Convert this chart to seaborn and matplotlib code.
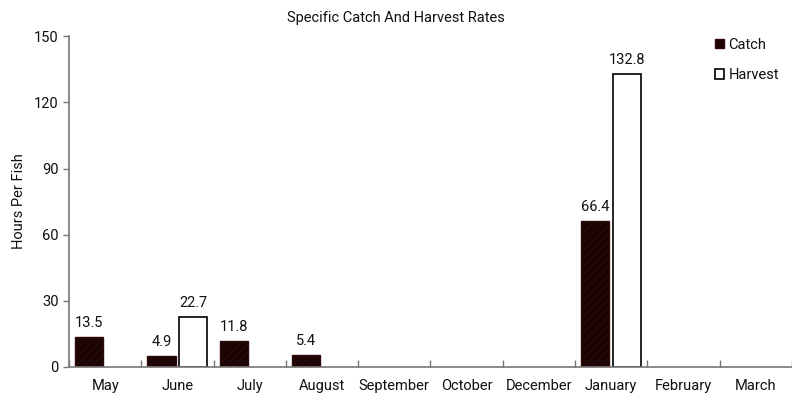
import matplotlib
matplotlib.use("Agg")
import matplotlib.pyplot as plt
import seaborn as sns
import pandas as pd
import numpy as np
from matplotlib.patches import Patch

months = ["May", "June", "July", "August", "September", "October", "December", "January", "February", "March"]
catch = [13.5, 4.9, 11.8, 5.4, np.nan, np.nan, np.nan, 66.4, np.nan, np.nan]
harvest = [np.nan, 22.7, np.nan, np.nan, np.nan, np.nan, np.nan, 132.8, np.nan, np.nan]
yticks = [0, 30, 60, 90, 120, 150]

sns.set_theme(style="white")
plt.rcParams['font.family'] = ['Roboto', 'DejaVu Sans']
plt.rcParams['hatch.linewidth'] = 0.8

df = pd.DataFrame({
    "Month": months * 2,
    "Value": catch + harvest,
    "Series": ["Catch"] * len(months) + ["Harvest"] * len(months),
})

fig = plt.figure(figsize=(7.92, 4.01), dpi=100)
ax = fig.add_axes([0.0871, 0.0848, 0.9129, 0.825])

sns.barplot(data=df, x="Month", y="Value", hue="Series", order=months,
            hue_order=["Catch", "Harvest"], palette=["#1a0404", "white"],
            width=0.88, gap=0.11, ax=ax, legend=False, saturation=1)

n = len(months)
for p in ax.containers[0]:
    p.set_facecolor("#1a0404")
    p.set_edgecolor("#300a0a")
    p.set_hatch("////")
    p.set_linewidth(1.0)
for p in ax.containers[1]:
    p.set_facecolor("white")
    p.set_edgecolor("black")
    p.set_linewidth(1.2)

for c in ax.containers:
    labels = ["" if np.isnan(v) else f"{v:.1f}" for v in c.datavalues]
    ax.bar_label(c, labels=labels, padding=5, fontsize=10.5, color="#111111")

ax.set_ylim(0, 150)
ax.set_yticks(yticks)
ax.set_xlim(-0.5, n - 0.5)
ax.set_xlabel("")
ax.set_ylabel("Hours Per Fish", fontsize=10.5, labelpad=6, color="#111111")
fig.text(0.5, 1 - 18 / 401, "Specific Catch And Harvest Rates", fontsize=10.5,
         ha="center", va="center", color="#111111")

for s in ["top", "right"]:
    ax.spines[s].set_visible(False)
for s in ["left", "bottom"]:
    ax.spines[s].set_color("#777777")
    ax.spines[s].set_linewidth(1.2)

ax.tick_params(axis="y", which="major", direction="out", length=4, color="#777777",
               labelsize=10.5, left=True, width=1, labelcolor="#111111")
ax.tick_params(axis="x", which="major", length=0, labelsize=10.5, pad=9, labelcolor="#111111")
ax.set_xticks(np.arange(-0.5, n, 1.0), minor=True)
ax.tick_params(axis="x", which="minor", direction="in", length=5, color="#777777",
               width=1, bottom=True)

handles = [Patch(facecolor="#1a0404", edgecolor="#300a0a", hatch="////"),
           Patch(facecolor="white", edgecolor="black", linewidth=1.2)]
ax.legend(handles, ["Catch", "Harvest"], loc="upper right", bbox_to_anchor=(1.0, 1.035),
          frameon=False, fontsize=10.5, handlelength=0.65, handleheight=0.65,
          handletextpad=0.3, labelspacing=1.15, labelcolor="#111111")

fig.savefig("out.png", dpi=100)
